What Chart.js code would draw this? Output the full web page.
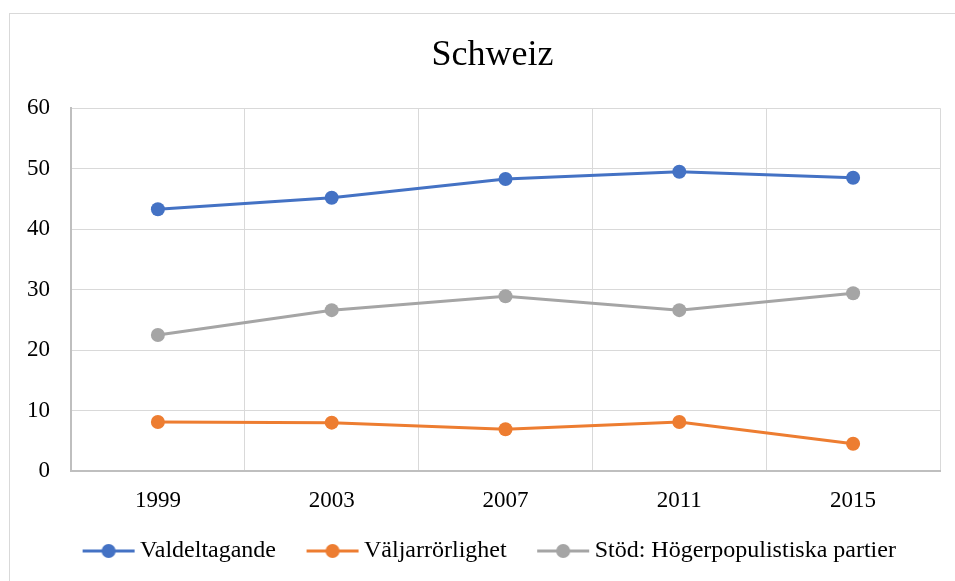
<!DOCTYPE html>
<html>
<head>
<meta charset="utf-8">
<script src="https://cdn.jsdelivr.net/npm/chart.js@4"></script>
<style>
    html, body { margin: 0; padding: 0; background: #fff; }
    #wrap { position: absolute; left: 0; top: 0; width: 955px; height: 581px; }
    #frame { position: absolute; left: 9px; top: 13px; width: 960px; height: 580px; border: 1px solid #d9d9d9; box-sizing: border-box; }
</style>
</head>
<body>
<div id="wrap">
    <div id="frame"></div>
    <canvas id="chart" width="955" height="581"></canvas>
</div>
<script>
const years = ['1999', '2003', '2007', '2011', '2015'];
const valdeltagande = [43.3, 45.2, 48.3, 49.5, 48.5];
const valjarrorlighet = [8.1, 8.0, 6.9, 8.1, 4.5];
const hogerpopulister = [22.5, 26.6, 28.9, 26.6, 29.4];
const seriesNames = ['Valdeltagande', 'Väljarrörlighet', 'Stöd: Högerpopulistiska partier'];
const seriesColors = ['#4472C4', '#ED7D31', '#A5A5A5'];

const serif = '"Liberation Serif", "Times New Roman", serif';

// small line + dot used as legend symbol
function legendMarker(color) {
    const c = document.createElement('canvas');
    c.width = 54;
    c.height = 16;
    const ctx = c.getContext('2d');
    ctx.strokeStyle = color;
    ctx.lineWidth = 3;
    ctx.beginPath();
    ctx.moveTo(1, 8);
    ctx.lineTo(53, 8);
    ctx.stroke();
    ctx.fillStyle = color;
    ctx.beginPath();
    ctx.arc(27, 8, 7, 0, Math.PI * 2);
    ctx.fill();
    return c;
}

function makeDataset(label, data, color) {
    return {
        label: label,
        data: data,
        borderColor: color,
        backgroundColor: color,
        borderWidth: 3,
        pointRadius: 7,
        pointHoverRadius: 7,
        pointBorderWidth: 0,
        tension: 0,
        fill: false
    };
}

// fixed axis sizes; labels may spill outside the axis box
function fixSize(prop, size) {
    return (scale) => {
        scale[prop] = size;
        scale._computeLabelArea = () => undefined;
    };
}

document.addEventListener('DOMContentLoaded', () => {
    const ctx = document.querySelector('#chart').getContext('2d');
    const markers = seriesColors.map(legendMarker);

    new Chart(ctx, {
        type: 'line',
        data: {
            labels: years,
            datasets: [
                makeDataset(seriesNames[0], valdeltagande, seriesColors[0]),
                makeDataset(seriesNames[1], valjarrorlighet, seriesColors[1]),
                makeDataset(seriesNames[2], hogerpopulister, seriesColors[2])
            ]
        },
        options: {
            responsive: false,
            animation: false,
            layout: { padding: { left: 45, right: 15, top: 0, bottom: 8 } },
            scales: {
                x: {
                    offset: true,
                    grid: { color: '#d9d9d9', lineWidth: 1, drawTicks: false, offset: true },
                    border: { color: '#bfbfbf', width: 2 },
                    ticks: { color: '#000', font: { family: serif, size: 23 }, padding: 16 },
                    afterFit: fixSize('height', 31)
                },
                y: {
                    min: 0,
                    max: 60,
                    grid: { color: '#d9d9d9', lineWidth: 1, drawTicks: false },
                    border: { color: '#bfbfbf', width: 2 },
                    ticks: { stepSize: 10, color: '#000', font: { family: serif, size: 23 }, padding: 21 },
                    afterFit: fixSize('width', 26)
                }
            },
            plugins: {
                title: {
                    display: true,
                    text: 'Schweiz',
                    color: '#000',
                    font: { family: serif, size: 36, weight: 'normal' },
                    padding: { top: 34, bottom: 31 }
                },
                legend: {
                    position: 'bottom',
                    labels: {
                        color: '#000',
                        font: { family: serif, size: 24 },
                        usePointStyle: true,
                        pointStyleWidth: 39,
                        boxHeight: 16,
                        padding: 37,
                        generateLabels: (chart) => chart.data.datasets.map((ds, i) => ({
                            text: ds.label,
                            pointStyle: markers[i],
                            fillStyle: ds.borderColor,
                            strokeStyle: ds.borderColor,
                            lineWidth: 0,
                            hidden: false,
                            datasetIndex: i
                        }))
                    }
                },
                tooltip: { enabled: false }
            }
        }
    });
});
</script>
</body>
</html>
